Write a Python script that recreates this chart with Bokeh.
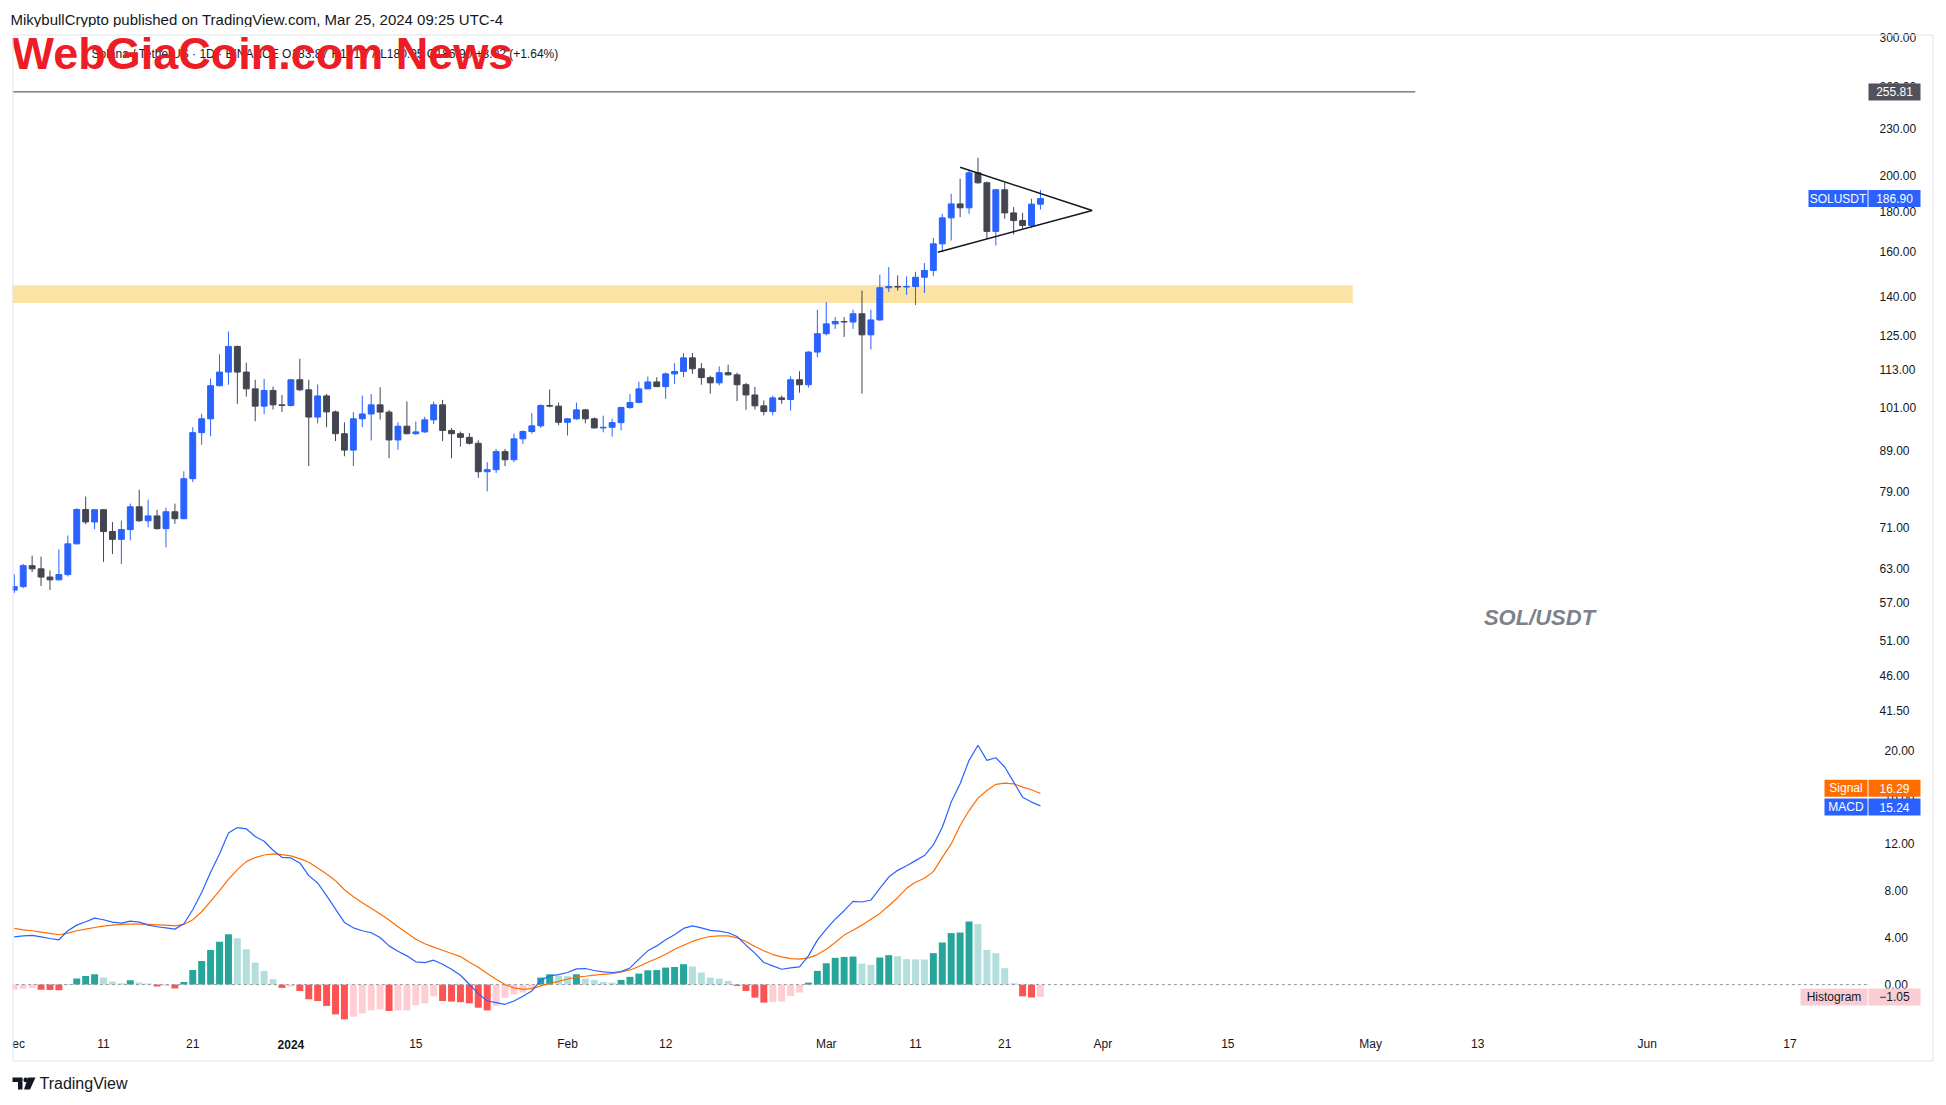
import numpy as np
import pandas as pd
from bokeh.plotting import figure
from bokeh.models import ColumnDataSource, FixedTicker, Range1d, Label, PrintfTickFormatter
from bokeh.layouts import column
from bokeh.embed import file_html
from bokeh.resources import INLINE
from bokeh.core.properties import value

# ---------------- data ----------------
start_date = "2023-12-01"
end_date = "2024-03-25"

opens = [59.1, 59.7, 63.5, 62.9, 61.4, 60.9, 61.85, 67.7, 74.9, 72.2,
         74.85, 70.2, 68.6, 70.6, 75.5, 72.45, 73.5, 70.8, 74.4, 72.9,
         82.0, 93.9, 97.8, 107.8, 112.2, 121.0, 112.2, 106.8, 101.5, 106.3,
         101.9, 101.7, 109.7, 106.5, 98.3, 104.6, 99.8, 93.6, 89.2, 97.8,
         99.2, 101.9, 99.75, 91.9, 95.7, 93.6, 94.1, 97.5, 101.9, 94.5,
         93.6, 92.6, 91.0, 83.7, 84.2, 88.8, 86.7, 92.2, 94.2, 95.8,
         101.7, 101.5, 96.8, 97.8, 100.4, 97.8, 95.2, 95.4, 96.7, 101.1,
         102.6, 106.8, 109.0, 107.5, 111.6, 112.4, 117.0, 113.3, 110.4, 108.7,
         112.0, 111.3, 108.1, 104.9, 101.6, 99.9, 104.0, 103.5, 109.7, 108.1,
         119.0, 125.6, 129.3, 130.2, 130.0, 133.2, 125.2, 130.8, 143.8, 144.3,
         144.1, 144.3, 148.3, 151.3, 163.6, 176.6, 184.0, 181.9, 201.6, 195.8,
         169.7, 191.8, 179.2, 175.2, 172.7, 183.87]
highs = [61.9, 63.8, 65.4, 65.2, 62.6, 66.6, 69.4, 75.2, 77.8, 74.9,
         75.0, 72.2, 72.5, 76.2, 79.4, 77.1, 74.85, 75.3, 76.2, 83.8,
         95.4, 99.3, 110.0, 118.2, 126.4, 121.3, 115.3, 109.7, 110.0, 107.5,
         104.9, 109.8, 116.7, 109.7, 108.2, 105.2, 100.2, 96.8, 99.75, 104.7,
         105.2, 107.3, 100.4, 96.8, 102.9, 97.0, 98.4, 102.9, 103.4, 95.2,
         94.2, 93.8, 91.8, 86.1, 89.5, 89.5, 93.6, 94.5, 99.4, 102.0,
         106.6, 102.6, 97.9, 102.6, 100.7, 98.2, 98.7, 97.8, 101.3, 105.2,
         109.1, 110.7, 110.5, 112.1, 115.2, 118.7, 118.7, 115.2, 111.0, 114.1,
         114.7, 112.0, 108.7, 107.4, 103.2, 104.7, 104.7, 110.8, 112.5, 119.3,
         134.8, 137.8, 131.9, 131.9, 134.8, 142.6, 134.8, 149.4, 152.8, 149.1,
         148.7, 150.7, 154.6, 166.5, 178.7, 189.5, 198.1, 203.0, 210.7, 196.5,
         192.3, 195.8, 182.3, 179.2, 186.8, 191.77]
lows = [58.6, 59.4, 62.3, 59.8, 59.1, 60.8, 61.5, 67.6, 71.7, 70.7,
        64.2, 65.7, 63.8, 68.4, 72.2, 71.1, 70.6, 67.0, 71.8, 72.8,
        81.2, 90.6, 92.9, 107.6, 108.1, 102.2, 104.4, 97.1, 99.2, 100.5,
        99.75, 101.4, 106.1, 85.1, 96.5, 95.4, 91.6, 87.6, 85.1, 95.4,
        91.75, 97.6, 87.1, 89.3, 93.4, 93.3, 93.8, 96.3, 91.6, 87.1,
        90.1, 90.65, 82.2, 79.0, 83.4, 85.1, 86.1, 90.85, 93.6, 95.2,
        101.2, 96.0, 93.1, 97.5, 96.5, 95.1, 94.0, 92.8, 94.5, 100.7,
        102.4, 106.7, 107.4, 103.7, 108.4, 110.6, 111.6, 108.1, 105.3, 107.9,
        111.1, 103.0, 100.4, 100.5, 98.8, 98.8, 102.2, 100.2, 105.6, 107.2,
        117.2, 125.0, 127.4, 124.4, 127.4, 105.3, 119.9, 130.5, 142.0, 142.6,
        140.8, 136.7, 141.6, 148.8, 159.7, 165.2, 177.0, 178.7, 195.2, 166.0,
        162.8, 176.1, 168.2, 171.0, 171.5, 180.95]
closes = [59.7, 63.5, 62.9, 61.4, 60.9, 61.85, 67.7, 74.9, 72.2, 74.85,
          70.2, 68.6, 70.6, 75.5, 72.45, 73.5, 70.8, 74.4, 72.9, 82.0,
          93.9, 97.8, 107.8, 112.2, 121.0, 112.2, 106.8, 101.5, 106.3, 101.9,
          101.7, 109.7, 106.5, 98.3, 104.6, 99.8, 93.6, 89.2, 97.8, 99.2,
          101.9, 99.75, 91.9, 95.7, 93.6, 94.1, 97.5, 101.9, 94.5, 93.6,
          92.6, 91.0, 83.7, 84.2, 88.8, 86.7, 92.2, 94.2, 95.8, 101.7,
          101.5, 96.8, 97.8, 100.4, 97.8, 95.2, 95.4, 96.7, 101.1, 102.6,
          106.8, 109.0, 107.5, 111.6, 112.4, 117.0, 113.3, 110.4, 108.7, 112.0,
          111.3, 108.1, 104.9, 101.6, 99.9, 104.0, 103.5, 109.7, 108.1, 119.0,
          125.6, 129.3, 130.2, 130.0, 133.2, 125.2, 130.8, 143.8, 144.3, 144.1,
          144.3, 148.3, 151.3, 163.6, 176.6, 184.0, 181.9, 201.6, 195.8, 169.7,
          191.8, 179.2, 175.2, 172.7, 183.88, 186.90]

macd_vals = [4.07, 4.16, 4.19, 4.07, 3.93, 3.82, 4.59, 5.07, 5.36, 5.67,
             5.53, 5.33, 5.24, 5.41, 5.33, 5.07, 4.93, 4.84, 4.73, 5.19,
             6.38, 7.86, 9.57, 11.14, 12.93, 13.39, 13.28, 12.62, 12.22, 11.45,
             10.85, 10.80, 10.37, 9.29, 8.66, 7.58, 6.44, 5.30, 4.84, 4.59,
             4.42, 4.02, 3.30, 2.85, 2.45, 1.94, 1.88, 2.08, 1.74, 1.31,
             0.80, 0.03, -0.77, -1.40, -1.54, -1.68, -1.40, -1.00, -0.54, 0.37,
             0.74, 0.85, 1.03, 1.34, 1.37, 1.20, 1.08, 1.03, 1.11, 1.42,
             2.17, 2.88, 3.30, 3.82, 4.25, 4.79, 5.01, 4.84, 4.62, 4.56,
             4.42, 4.10, 3.36, 2.68, 1.88, 1.60, 1.31, 1.42, 1.51, 2.45,
             3.79, 4.73, 5.58, 6.30, 7.09, 7.04, 7.21, 8.21, 9.17, 9.74,
             10.14, 10.57, 11.00, 11.91, 13.42, 15.56, 17.12, 19.12, 20.40, 19.12,
             19.34, 18.55, 17.26, 15.98, 15.56, 15.24]
signal_vals = [4.79, 4.67, 4.59, 4.47, 4.36, 4.25, 4.39, 4.59, 4.73, 4.87,
               4.99, 5.07, 5.13, 5.16, 5.16, 5.13, 5.10, 5.07, 5.01, 5.13,
               5.53, 6.21, 7.09, 8.01, 8.97, 9.80, 10.48, 10.83, 11.05, 11.14,
               11.08, 10.97, 10.74, 10.43, 9.94, 9.43, 8.86, 8.09, 7.49, 6.98,
               6.50, 6.01, 5.50, 4.93, 4.39, 3.87, 3.48, 3.19, 2.93, 2.65,
               2.39, 1.91, 1.48, 0.94, 0.46, 0.00, -0.28, -0.40, -0.34, -0.11,
               0.11, 0.28, 0.48, 0.63, 0.71, 0.80, 0.88, 0.94, 1.08, 1.25,
               1.54, 1.91, 2.22, 2.59, 3.02, 3.36, 3.68, 3.93, 4.10, 4.16,
               4.16, 3.99, 3.68, 3.25, 2.88, 2.56, 2.36, 2.22, 2.17, 2.28,
               2.56, 3.02, 3.59, 4.22, 4.64, 5.07, 5.58, 6.07, 6.72, 7.41,
               8.21, 8.72, 9.06, 9.63, 10.85, 11.99, 13.56, 14.84, 15.90, 16.55,
               17.07, 17.18, 17.12, 16.84, 16.61, 16.29]
hist_vals = [-0.42, -0.35, -0.30, -0.44, -0.46, -0.48, 0.04, 0.51, 0.74, 0.88,
             0.60, 0.26, 0.11, 0.37, 0.17, 0.09, -0.17, -0.11, -0.34, 0.23,
             1.25, 2.02, 2.96, 3.65, 4.30, 3.96, 3.02, 1.88, 1.17, 0.46,
             -0.28, -0.17, -0.54, -1.25, -1.40, -1.82, -2.54, -2.96, -2.74, -2.45,
             -2.19, -2.11, -2.25, -2.20, -2.19, -1.77, -1.60, -1.00, -1.40, -1.45,
             -1.50, -1.60, -1.97, -2.20, -1.82, -1.11, -0.83, -0.68, -0.40, 0.60,
             0.88, 0.74, 0.72, 0.88, 0.51, 0.40, 0.23, 0.17, 0.40, 0.66,
             0.94, 1.22, 1.24, 1.45, 1.50, 1.74, 1.54, 1.03, 0.60, 0.51,
             0.31, -0.11, -0.54, -1.11, -1.54, -1.48, -1.45, -0.97, -0.68, 0.17,
             1.17, 1.82, 2.28, 2.36, 2.39, 1.79, 1.68, 2.31, 2.51, 2.42,
             2.17, 2.15, 2.14, 2.68, 3.59, 4.39, 4.44, 5.38, 5.16, 2.96,
             2.68, 1.40, 0.11, -1.00, -1.10, -1.05]
hist_before_first = -0.50

price_ticks = [41.5, 46, 51, 57, 63, 71, 79, 89, 101, 113, 125, 140, 160, 180, 200, 230, 260, 300]
macd_ticks = [0, 4, 8, 12, 16, 20]
time_tick_dates = ["2023-12-01", "2023-12-11", "2023-12-21", "2024-01-01", "2024-01-15",
                   "2024-02-01", "2024-02-12", "2024-03-01", "2024-03-11", "2024-03-21",
                   "2024-04-01", "2024-04-15", "2024-05-01", "2024-05-13", "2024-06-01",
                   "2024-06-17"]
time_tick_labels = ["Dec", "11", "21", "2024", "15", "Feb", "12", "Mar", "11", "21",
                    "Apr", "15", "May", "13", "Jun", "17"]

# drawings
zone_low, zone_high, zone_end = 137.5, 144.8, "2024-04-29"
ray_price, ray_end = 255.81, "2024-05-06"
tri_upper = ([75.0, 89.8], [204.9, 180.5])      # (day offsets, prices)
tri_lower = ([72.5, 89.8], [159.6, 180.5])
last_price = 186.90
signal_last, macd_last, hist_last = 16.29, 15.24, -1.05

header_text = "MikybullCrypto published on TradingView.com, Mar 25, 2024 09:25 UTC-4"
legend_text = "Solana / TetherUS \u00b7 1D \u00b7 BINANCE   O183.87  H191.77  L180.95  C186.90  +3.02 (+1.64%)"
watermark_text = "WebGiaCoin.com News"

# ---------------- helpers (page pixels <-> data of each pane) ----------------
day0 = pd.Timestamp("2024-01-01")
def dnum(s):
    return float((pd.Timestamp(s) - day0).days)

PX0, PX_PER_DAY = 290.4, 8.923
def px2day(px):
    return (px - PX0) / PX_PER_DAY

def py2price(py):            # log price scale
    return 300.0 * np.exp(-(py - 37.2) / 340.0)

def py2macd(py):             # linear MACD scale
    return (984.1 - py) / 11.73

dates = pd.date_range(start_date, end_date, freq="D")
xs = np.array([(d - day0).days for d in dates], dtype=float)
o = np.array(opens); h = np.array(highs); l = np.array(lows); c = np.array(closes)

UP, DOWN = "#2962FF", "#434651"
ccol = [UP if cc >= oo else DOWN for oo, cc in zip(o, c)]

PW = 1944
X0, X1 = px2day(0), px2day(PW)
AXIS_X = px2day(1868)          # where the price scale begins
FONT = "Liberation Sans"
BORDER = "#E0E3EB"

def style_yaxis(ax, ticks, standoff):
    ax.ticker = FixedTicker(ticks=ticks)
    ax.formatter = PrintfTickFormatter(format="%.2f")
    ax.fixed_location = AXIS_X
    ax.axis_line_color = None
    ax.major_tick_line_color = None
    ax.minor_tick_line_color = None
    ax.major_tick_out = 0
    ax.major_tick_in = 0
    ax.minor_tick_out = 0
    ax.major_label_text_font = FONT
    ax.major_label_text_font_size = "12px"
    ax.major_label_text_color = "#131722"
    ax.major_label_standoff = standoff

def tag(fig, y, txt, bg, fg, side, w=52):
    cx = px2day(1868 + w / 2) if side == "value" else px2day(1867 - w / 2)
    fig.rect(x=[cx], y=[y], width=w, height=17, width_units="screen", height_units="screen",
             fill_color=bg, line_color=None, level="overlay")
    fig.text(x=[cx], y=[y], text=[txt], text_align="center", text_baseline="middle",
             text_font=value(FONT), text_font_size="12px", text_color=fg, level="overlay")

# ---------------- price pane ----------------
price = figure(width=PW, height=705, x_range=Range1d(X0, X1),
               y_range=Range1d(py2price(732), py2price(27)),
               y_axis_type="log", y_axis_location="right", x_axis_location=None,
               toolbar_location=None, output_backend="svg", min_border=0)
price.outline_line_color = None
price.grid.visible = False
style_yaxis(price.yaxis[0], price_ticks, 11)

price.quad(left=X0 - 5, right=dnum(zone_end), bottom=zone_low, top=zone_high,
           fill_color="#FBE3A6", line_color=None)
price.segment(x0=[X0 - 5], y0=[ray_price], x1=[dnum(ray_end)], y1=[ray_price],
              line_color="#363A45", line_width=1)

src = ColumnDataSource(dict(x=xs, o=o, h=h, l=l, c=c,
                            top=np.maximum(o, c), bottom=np.minimum(o, c), color=ccol))
price.segment(x0="x", y0="l", x1="x", y1="h", line_color="color", line_width=1, source=src)
price.vbar(x="x", width=0.66, top="top", bottom="bottom", fill_color="color",
           line_color="color", line_width=1, source=src)

price.line(tri_upper[0], tri_upper[1], line_color="#131722", line_width=1.5)
price.line(tri_lower[0], tri_lower[1], line_color="#131722", line_width=1.5)

# chart area clip on the left and frame border
price.quad(left=X0 - 5, right=px2day(12), bottom=1, top=1000, fill_color="white",
           line_color=None, level="overlay")
top_b, bot_b = py2price(34.5), 1.0
price.segment(x0=[px2day(12), px2day(12.5), px2day(1932.5)],
              y0=[top_b, top_b, top_b],
              x1=[px2day(1932.5), px2day(12.5), px2day(1932.5)],
              y1=[top_b, bot_b, bot_b], line_color=BORDER, line_width=1, level="overlay")

price.add_layout(Label(x=px2day(1539), y=py2price(617), text="SOL/USDT", text_font=FONT,
                       text_font_size="22px", text_font_style="bold italic",
                       text_color="#7E818B", text_align="center", text_baseline="middle"))
price.add_layout(Label(x=px2day(578), y=py2price(53), text=legend_text, text_font=FONT,
                       text_font_size="12px", text_color="#131722", text_align="right",
                       text_baseline="middle"))
price.add_layout(Label(x=px2day(11), y=py2price(53), text=watermark_text, text_font=FONT,
                       text_font_size="45px", text_font_style="bold", text_color="#EE1C25",
                       text_align="left", text_baseline="middle"))

tag(price, ray_price, "255.81", "#50535E", "white", "value")
tag(price, last_price, "SOLUSDT", "#2962FF", "white", "name", 59)
tag(price, last_price, "186.90", "#2962FF", "white", "value")

# ---------------- MACD pane + time scale ----------------
macd_fig = figure(width=PW, height=330, x_range=price.x_range,
                  y_range=Range1d(py2macd(1062), py2macd(732)),
                  y_axis_location="right", toolbar_location=None, output_backend="svg",
                  min_border=0)
macd_fig.outline_line_color = None
macd_fig.grid.visible = False
style_yaxis(macd_fig.yaxis[0], macd_ticks, 16)

tick_days = [dnum(s) for s in time_tick_dates]
mx = macd_fig.xaxis[0]
mx.ticker = FixedTicker(ticks=tick_days)
mx.major_label_overrides = {d: ("" if t == "2024" else t) for d, t in zip(tick_days, time_tick_labels)}
mx.fixed_location = py2macd(1025)
mx.axis_line_color = None
mx.major_tick_line_color = None
mx.minor_tick_line_color = None
mx.major_label_text_font = FONT
mx.major_label_text_font_size = "12px"
mx.major_label_text_color = "#131722"
mx.major_label_standoff = 5
macd_fig.add_layout(Label(x=dnum("2024-01-01"), y=py2macd(1043.5), text="2024", text_font=FONT,
                          text_font_size="12px", text_font_style="bold", text_color="#131722",
                          text_align="center", text_baseline="middle"))

hcol = []
for k, v in enumerate(hist_vals):
    prev = hist_vals[k - 1] if k else hist_before_first
    if v >= 0:
        hcol.append("#26A69A" if v > prev else "#B2DFDB")
    else:
        hcol.append("#FFCDD2" if v > prev else "#FF5252")
macd_fig.vbar(x=xs, top=hist_vals, bottom=0, width=0.78, fill_color=hcol, line_color=None)
macd_fig.segment(x0=[X0 - 5], y0=[0], x1=[AXIS_X], y1=[0], line_color="#9598A1",
                 line_dash="3 3", line_width=1)
macd_fig.line(xs, signal_vals, line_color="#FF6D00", line_width=1.2)
macd_fig.line(xs, macd_vals, line_color="#2962FF", line_width=1.2)

tag(macd_fig, signal_last + 0.45, "Signal", "#FF6D00", "white", "name", 43)
tag(macd_fig, signal_last + 0.45, "16.29", "#FF6D00", "white", "value")
tag(macd_fig, macd_last - 0.1, "MACD", "#2962FF", "white", "name", 43)
tag(macd_fig, macd_last - 0.1, "15.24", "#2962FF", "white", "value")
tag(macd_fig, hist_last, "Histogram", "#FACDD2", "#131722", "name", 67)
tag(macd_fig, hist_last, "\u22121.05", "#FACDD2", "#131722", "value")

macd_fig.quad(left=X0 - 5, right=px2day(12), bottom=-100, top=100, fill_color="white",
              line_color=None, level="overlay")
mb, mt = py2macd(1060.5), 100.0
macd_fig.segment(x0=[px2day(12.5), px2day(1932.5), px2day(12.5)],
                 y0=[mt, mt, mb],
                 x1=[px2day(12.5), px2day(1932.5), px2day(1932.5)],
                 y1=[mb, mb, mb], line_color=BORDER, line_width=1, level="overlay")

# ---------------- header / footer ----------------
header = figure(width=PW, height=27, x_range=Range1d(0, PW), y_range=Range1d(0, 27),
                toolbar_location=None, output_backend="svg", min_border=0,
                x_axis_location=None, y_axis_location=None)
header.outline_line_color = None
header.grid.visible = False
header.text(x=[10], y=[8], text=[header_text], text_font=value(FONT), text_font_size="15px",
            text_color="#131722", text_baseline="middle")

footer = figure(width=PW, height=36, x_range=Range1d(0, PW), y_range=Range1d(0, 36),
                toolbar_location=None, output_backend="svg", min_border=0,
                x_axis_location=None, y_axis_location=None)
footer.outline_line_color = None
footer.grid.visible = False
footer.patches(xs=[[12, 22, 22, 17.5, 17.5, 12], [27.5, 35, 29.5, 23.5]],
               ys=[[21, 21, 9, 9, 16.5, 16.5], [21, 21, 9, 9]],
               fill_color="#131722", line_color=None)
footer.scatter(x=[25.2], y=[18.6], size=4.6, fill_color="#131722", line_color=None)
footer.text(x=[39], y=[15], text=["TradingView"], text_font=value(FONT), text_font_size="16px",
            text_color="#131722", text_baseline="middle")

root = column(header, price, macd_fig, footer)

open("out.html", "w").write(file_html(root, INLINE))
